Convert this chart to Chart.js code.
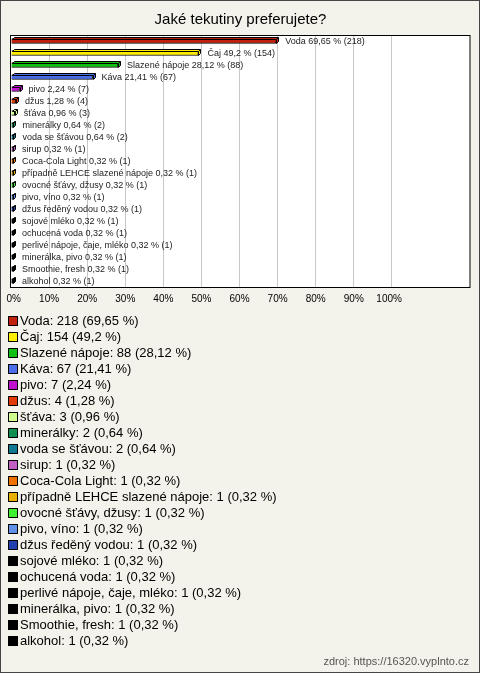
<!DOCTYPE html>
<html>
<head>
<meta charset="utf-8">
<script src="https://cdn.jsdelivr.net/npm/chart.js@4/dist/chart.umd.min.js"></script>
<style>
    html, body { margin: 0; padding: 0; background: #f4f3eb; }
    canvas { display: block; }
</style>
</head>
<body>
<canvas id="drinkChart" width="480" height="673"></canvas>
<script>
// Survey answers
const categories = ['Voda', 'Čaj', 'Slazené nápoje', 'Káva', 'pivo', 'džus', 'šťáva', 'minerálky',
    'voda se šťávou', 'sirup', 'Coca-Cola Light', 'případně LEHCE slazené nápoje', 'ovocné šťávy, džusy',
    'pivo, víno', 'džus ředěný vodou', 'sojové mléko', 'ochucená voda', 'perlivé nápoje, čaje, mléko',
    'minerálka, pivo', 'Smoothie, fresh', 'alkohol'];
const counts = [218, 154, 88, 67, 7, 4, 3, 2, 2, 1, 1, 1, 1, 1, 1, 1, 1, 1, 1, 1, 1];
const percents = [69.65, 49.2, 28.12, 21.41, 2.24, 1.28, 0.96, 0.64, 0.64, 0.32, 0.32, 0.32, 0.32,
    0.32, 0.32, 0.32, 0.32, 0.32, 0.32, 0.32, 0.32];
const colors = ['#c0200c', '#ffee00', '#10c010', '#4a6ee8', '#c010d0', '#e03c08', '#d0ff90', '#109050',
    '#107890', '#c060c0', '#f07000', '#e8b000', '#40f030', '#6090e8', '#2040b0', '#000000', '#000000',
    '#000000', '#000000', '#000000', '#000000'];
const tickValues = [0, 10, 20, 30, 40, 50, 60, 70, 80, 90, 100];

const fmt = v => String(v).replace('.', ',');

// White plot background + frame
const plotFrame = {
    id: 'plotFrame',
    beforeDraw(chart) {
        const { ctx, chartArea: a } = chart;
        ctx.save();
        ctx.fillStyle = '#ffffff';
        ctx.fillRect(a.left, a.top, a.right - a.left, a.bottom - a.top);
        ctx.restore();
    },
    afterDraw(chart) {
        const { ctx, chartArea: a, width, height } = chart;
        ctx.save();
        ctx.strokeStyle = '#000';
        ctx.lineWidth = 1;
        ctx.strokeRect(a.left - 0.5, a.top + 0.5, a.right - a.left + 0.5, a.bottom - a.top);
        ctx.fillStyle = '#000';
        ctx.fillRect(a.left - 1, a.top, 1, a.bottom - a.top);
        // outer border
        ctx.strokeStyle = '#444';
        ctx.strokeRect(0.5, 0.5, width - 1, height - 1);
        ctx.restore();
    }
};

// fake 3D top and side faces on bars, then the text next to them
const barLabels = {
    id: 'barLabels',
    afterDatasetsDraw(chart) {
        const { ctx } = chart;
        const meta = chart.getDatasetMeta(0);
        const d = 2;
        ctx.save();
        ctx.lineWidth = 1;
        ctx.strokeStyle = '#000';
        meta.data.forEach((bar, i) => {
            const l = Math.round(bar.base) + 0.5, r = Math.round(bar.x) + 0.5;
            const t = Math.round(bar.y - bar.height / 2) + 0.5, b = t + bar.height - 1;
            ctx.fillStyle = colors[i];
            ctx.beginPath();
            ctx.moveTo(l, t); ctx.lineTo(l + d, t - d); ctx.lineTo(r + d, t - d);
            ctx.lineTo(r + d, b - d); ctx.lineTo(r, b); ctx.lineTo(r, t); ctx.closePath();
            ctx.fill();
            ctx.stroke();
            ctx.beginPath();
            ctx.moveTo(r, t); ctx.lineTo(r + d, t - d);
            ctx.stroke();
        });
        ctx.font = '9px "Liberation Sans", Arial, sans-serif';
        ctx.fillStyle = '#222';
        ctx.textBaseline = 'middle';
        ctx.textAlign = 'left';
        meta.data.forEach((bar, i) => {
            ctx.fillText(categories[i] + ' ' + fmt(percents[i]) + ' % (' + counts[i] + ')', bar.x + 9, bar.y + 0.5);
        });
        ctx.restore();
    }
};

// Legend list under the chart + source note
const listLegend = {
    id: 'listLegend',
    afterDraw(chart) {
        const { ctx, width } = chart;
        ctx.save();
        ctx.font = '13px "Liberation Sans", Arial, sans-serif';
        ctx.textBaseline = 'middle';
        categories.forEach((name, i) => {
            const y = 321 + i * 16;
            ctx.fillStyle = colors[i];
            ctx.fillRect(9, y - 4, 8, 8);
            ctx.strokeStyle = '#000';
            ctx.lineWidth = 1;
            ctx.strokeRect(8.5, y - 4.5, 9, 9);
            ctx.fillStyle = '#000';
            ctx.fillText(name + ': ' + counts[i] + ' (' + fmt(percents[i]) + ' %)', 20, y + 0.5);
        });
        ctx.font = '11px "Liberation Sans", Arial, sans-serif';
        ctx.fillStyle = '#555';
        ctx.textAlign = 'right';
        ctx.fillText('zdroj: https://16320.vyplnto.cz', width - 11, 662);
        ctx.restore();
    }
};

const chart = new Chart(document.getElementById('drinkChart'), {
    type: 'bar',
    data: {
        labels: categories,
        datasets: [{
            data: percents,
            backgroundColor: colors,
            borderColor: '#000',
            borderWidth: 1,
            barThickness: 5,
            minBarLength: 2
        }]
    },
    options: {
        indexAxis: 'y',
        responsive: false,
        animation: false,
        events: [],
        layout: { padding: { top: 0, left: 11, right: 10, bottom: 356 } },
        scales: {
            x: {
                min: 0,
                max: 120.5,
                afterBuildTicks(scale) {
                    scale.ticks = tickValues.map(v => ({ value: v }));
                },
                afterFit(scale) {
                    scale.height = 30;
                    scale.paddingLeft = 0;
                    scale.paddingRight = 0;
                },
                ticks: {
                    autoSkip: false,
                    maxRotation: 0,
                    align: 'end',
                    labelOffset: 10,
                    padding: 6,
                    color: '#000',
                    font: { family: '"Liberation Sans", Arial, sans-serif', size: 10 },
                    callback: v => v + '%'
                },
                grid: {
                    drawTicks: false,
                    color: ctx => ctx.tick && ctx.tick.value === 0 ? 'rgba(0,0,0,0)' : '#c8c8c8',
                    lineWidth: 1
                },
                border: { display: false }
            },
            y: {
                display: false
            }
        },
        plugins: {
            legend: { display: false },
            tooltip: { enabled: false },
            title: {
                display: true,
                text: 'Jaké tekutiny preferujete?',
                color: '#000',
                font: { family: '"Liberation Sans", Arial, sans-serif', size: 15, weight: 'normal' },
                padding: { top: 11, bottom: 6 }
            }
        }
    },
    plugins: [plotFrame, barLabels, listLegend]
});
</script>
</body>
</html>
